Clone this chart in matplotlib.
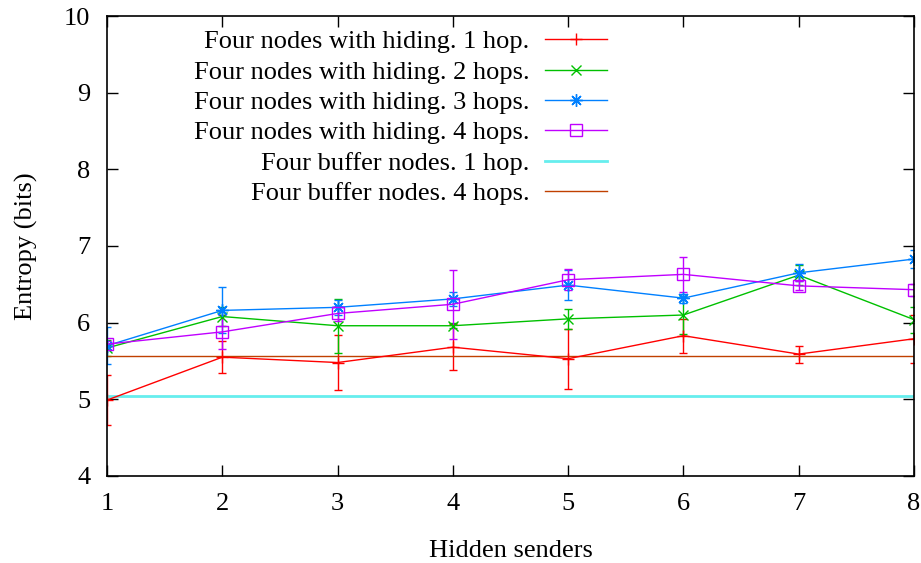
import matplotlib.pyplot as plt
import numpy as np

plt.rcParams['font.family'] = ['Liberation Serif', 'DejaVu Serif']

senders = [1, 2, 3, 4, 5, 6, 7, 8]

hide_1hop = [4.99, 5.55, 5.48, 5.68, 5.53, 5.83, 5.59, 5.79]
hide_1hop_err = [0.33, 0.21, 0.36, 0.30, 0.39, 0.22, 0.11, 0.31]

hide_2hops = [5.67, 6.08, 5.96, 5.96, 6.05, 6.10, 6.62, 6.04]
hide_2hops_err = [0.10, 0.12, 0.35, 0.03, 0.13, 0.25, 0.13, 0.17]

hide_3hops = [5.70, 6.16, 6.20, 6.31, 6.49, 6.32, 6.65, 6.83]
hide_3hops_err = [0.24, 0.30, 0.10, 0.09, 0.20, 0.06, 0.11, 0.12]

hide_4hops = [5.72, 5.88, 6.12, 6.24, 6.56, 6.63, 6.48, 6.43]
hide_4hops_err = [0.04, 0.22, 0.10, 0.45, 0.14, 0.23, 0.06, 0.08]

buffer_1hop = [5.05, 5.05, 5.05, 5.05, 5.05, 5.05, 5.05, 5.05]
buffer_4hops = [5.56, 5.56, 5.56, 5.56, 5.56, 5.56, 5.56, 5.56]

fig = plt.figure(figsize=(9.21, 5.63), dpi=100)
ax = fig.add_axes([107 / 921, 1 - 476 / 563, (914 - 107) / 921, (476 - 16) / 563])

e1 = ax.errorbar(senders, hide_1hop, yerr=hide_1hop_err, color='#ff0000', marker='+', ms=9,
                 lw=1, capsize=3, elinewidth=1, label='Four nodes with hiding. 1 hop.')
e2 = ax.errorbar(senders, hide_2hops, yerr=hide_2hops_err, color='#00c000', marker='x', ms=7,
                 lw=1, capsize=3, elinewidth=1, label='Four nodes with hiding. 2 hops.')
e3 = ax.errorbar(senders, hide_3hops, yerr=hide_3hops_err, color='#0080ff', marker=(8, 2, 0), ms=9,
                 lw=1, capsize=3, elinewidth=1, label='Four nodes with hiding. 3 hops.')
e4 = ax.errorbar(senders, hide_4hops, yerr=hide_4hops_err, color='#c000ff', marker='s', ms=8,
                 mfc='none', lw=1, capsize=3, elinewidth=1, label='Four nodes with hiding. 4 hops.')
b1, = ax.plot(senders, buffer_1hop, color='#66eeee', lw=2, label='Four buffer nodes. 1 hop.')
b4, = ax.plot(senders, buffer_4hops, color='#c04000', lw=1, label='Four buffer nodes. 4 hops.')

ax.set_xlim(1, 8)
ax.set_ylim(4, 10)
ax.set_xticks(senders)
ax.set_yticks([4, 5, 6, 7, 8, 9, 10])
ax.tick_params(direction='in', top=True, right=True, length=8, width=1, labelsize=19)
ax.tick_params(axis='x', pad=12)
ax.tick_params(axis='y', pad=12)
for s in ax.spines.values():
    s.set_linewidth(1.2)

ax.set_xlabel('Hidden senders', fontsize=19, labelpad=18)
ax.set_ylabel('Entropy (bits)', fontsize=19, labelpad=19)

handles = [e1[0], e2[0], e3[0], e4[0], b1, b4]
labels = [h.get_label() for h in [e1, e2, e3, e4, b1, b4]]
ax.legend(handles, labels, loc='upper right', bbox_to_anchor=(607 / 921, 1 - 30 / 563),
          bbox_transform=fig.transFigure, frameon=False, markerfirst=False, borderaxespad=0,
          fontsize=19, handlelength=2.35, labelspacing=0.26, borderpad=0, handletextpad=0.6)

plt.savefig('out.png', dpi=100)
